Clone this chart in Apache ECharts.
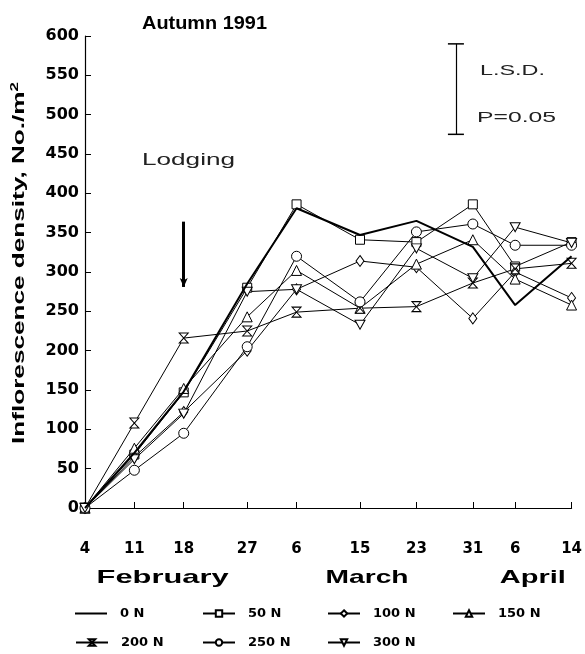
<!DOCTYPE html>
<html>
<head>
<meta charset="utf-8">
<script src="https://cdn.jsdelivr.net/npm/echarts@6/dist/echarts.min.js"></script>
<style>
html,body{margin:0;padding:0;background:#fff;}
#c{width:585px;height:654px;}
</style>
</head>
<body>
<div id="c"></div>
<script>
// Days since 4 February 1991
const days = [0, 7, 14, 23, 30, 39, 47, 55, 61, 69];
const dayLabels = ['4', '11', '18', '27', '6', '15', '23', '31', '6', '14'];
const yTicks = [0, 50, 100, 150, 200, 250, 300, 350, 400, 450, 500, 550, 600];
const months = ['February', 'March', 'April'];
const monthDays = [11, 40, 63.5];
const seriesNames = ['0 N', '50 N', '100 N', '150 N', '200 N', '250 N', '300 N'];

const n0   = [0, 70, 148, 285, 381, 347, 365, 332, 258, 320];
const n50  = [0, 68, 147, 280, 386, 341, 338, 386, 307, 338];
const n100 = [0, 65, 122, 200, 278, 314, 306, 241, 300, 267];
const n150 = [0, 76, 152, 243, 302, 254, 310, 341, 291, 258];
const n200 = [0, 108, 216, 225, 249, 254, 256, 286, 304, 311];
const n250 = [0, 48, 95, 205, 320, 262, 351, 361, 334, 334];
const n300 = [0, 62, 120, 275, 278, 233, 330, 292, 357, 337];

// Lodging arrow (day, from value, to value) and LSD bar (day, top, bottom)
const lodgingArrow = [14, 364, 281];
const lsdBar = [52.6, 590, 475];

const values = [n0, n50, n100, n150, n200, n250, n300];
const symbols = ['none', 'rect', 'diamond', 'triangle',
  'path://M0,0 L10,0 L0,12 L10,12 Z', 'circle', 'path://M0,0 L10,0 L5,10 Z'];
const symbolSizes = [0, 9, [8, 11], 10, [9, 10], 10, [10, 9]];

const FONT = 'Liberation Sans, Arial, sans-serif';
const WIDE = '"DejaVu Sans", sans-serif';

const chart = echarts.init(document.getElementById('c'), null, {renderer: 'canvas'});

const series = values.map((vals, i) => ({
  name: seriesNames[i],
  type: 'line',
  data: days.map((d, j) => [d, vals[j]]),
  symbol: symbols[i],
  symbolSize: symbolSizes[i],
  showSymbol: i !== 0,
  clip: false,
  lineStyle: {color: '#000', width: i === 0 ? 2 : 1},
  itemStyle: {color: '#fff', borderColor: '#000', borderWidth: 1},
  emphasis: {disabled: true},
  animation: false,
  z: i === 0 ? 3 : 2
}));

series[0].markLine = {
  silent: true,
  animation: false,
  symbol: ['none', 'arrow'],
  symbolSize: [6, 9],
  label: {show: false},
  lineStyle: {color: '#000', width: 3, type: 'solid'},
  data: [[{coord: [lodgingArrow[0], lodgingArrow[1]]}, {coord: [lodgingArrow[0], lodgingArrow[2]]}]]
};
series[1].markLine = {
  silent: true,
  animation: false,
  symbol: ['rect', 'rect'],
  symbolSize: [16, 1.5],
  label: {show: false},
  lineStyle: {color: '#000', width: 1.2, type: 'solid'},
  data: [[{coord: [lsdBar[0], lsdBar[1]]}, {coord: [lsdBar[0], lsdBar[2]]}]]
};

const legendPos = [[75, 607], [202, 607], [327, 607], [452, 607], [75, 636], [202, 636], [327, 636]];
const legends = seriesNames.map((nm, i) => {
  const lg = {
    data: [nm],
    left: legendPos[i][0],
    top: legendPos[i][1],
    itemWidth: 32,
    itemHeight: 8,
    selectedMode: false,
    padding: 0,
    textStyle: {fontFamily: WIDE, fontWeight: 'bold', fontSize: 13, color: '#000', padding: [0, 0, 0, 8]}
  };
  if (i === 0) {
    lg.data = [{name: nm, icon: 'rect'}];
    lg.itemHeight = 2;
    lg.itemStyle = {color: '#000', borderWidth: 0};
  }
  return lg;
});

chart.setOption({
  animation: false,
  backgroundColor: '#fff',
  grid: {left: 85, right: 3, top: 36, bottom: 146, containLabel: false},
  legend: legends,
  xAxis: {
    type: 'value',
    min: 0,
    max: 69,
    offset: 22,
    axisLine: {show: true, lineStyle: {color: '#000', width: 1.2}},
    axisTick: {show: true, inside: true, length: 6, customValues: days, lineStyle: {color: '#000'}},
    axisLabel: {
      show: true,
      customValues: days,
      margin: 12,
      color: '#000',
      fontFamily: WIDE,
      fontWeight: 'bold',
      fontSize: 15,
      formatter: v => {
        const k = days.indexOf(v);
        return k >= 0 ? dayLabels[k] : '';
      }
    },
    splitLine: {show: false}
  },
  yAxis: {
    type: 'value',
    min: 0,
    max: 600,
    interval: 50,
    axisLine: {show: true, lineStyle: {color: '#000', width: 1.2}},
    axisTick: {show: true, inside: true, length: 6, lineStyle: {color: '#000'}},
    axisLabel: {
      color: '#000', fontFamily: WIDE, fontWeight: 'bold', fontSize: 16, margin: 6,
      formatter: v => (yTicks.indexOf(v) >= 0 ? String(v) : '')
    },
    splitLine: {show: false}
  },
  series: series
});

// text width helper to stretch annotation texts to the reference's wide spacing
const mctx = document.createElement('canvas').getContext('2d');
function measure(text, font) { mctx.font = font; return mctx.measureText(text).width; }
function stretched(text, font, targetW, x, y, align, fill) {
  const w = measure(text, font);
  return {
    type: 'text', x: x, y: y, scaleX: targetW / w, scaleY: 1,
    style: {text: text, fill: fill || '#000', font: font, align: align, verticalAlign: 'middle'}
  };
}

const monthTargets = [132, 83, 66];
const monthGraphics = months.map((m, i) => {
  const p = chart.convertToPixel({gridIndex: 0}, [monthDays[i], 0]);
  return stretched(m, 'bold 19px ' + FONT, monthTargets[i], p[0], 578, 'center', '#000');
});

// y axis name (rotated, stretched along its own direction)
const yFont = 'bold 17px ' + FONT;
const yMain = 'Inflorescence density, No./m';
const yMainW = measure(yMain, yFont) + measure('2', 'bold 11px ' + FONT);
const yScale = 362 / yMainW;

chart.setOption({
  graphic: [
    stretched('Autumn 1991', 'bold 18px ' + FONT, 125, 142, 24, 'left', '#000'),
    stretched('Lodging', '16px ' + FONT, 93, 142, 161, 'left', '#222'),
    stretched('L.S.D.', '15px ' + FONT, 65, 480, 71, 'left', '#222'),
    stretched('P=0.05', '15px ' + FONT, 79, 477, 118, 'left', '#222'),
    {
      type: 'text', x: 19, y: 263, rotation: Math.PI / 2, scaleX: yScale, scaleY: 1,
      style: {
        text: '{a|' + yMain + '}{s|2}',
        align: 'center', verticalAlign: 'middle',
        rich: {
          a: {font: yFont, fill: '#000'},
          s: {font: 'bold 11px ' + FONT, fill: '#000', verticalAlign: 'top', padding: [0, 0, 8, 0]}
        }
      }
    }
  ].concat(monthGraphics)
});
</script>
</body>
</html>
